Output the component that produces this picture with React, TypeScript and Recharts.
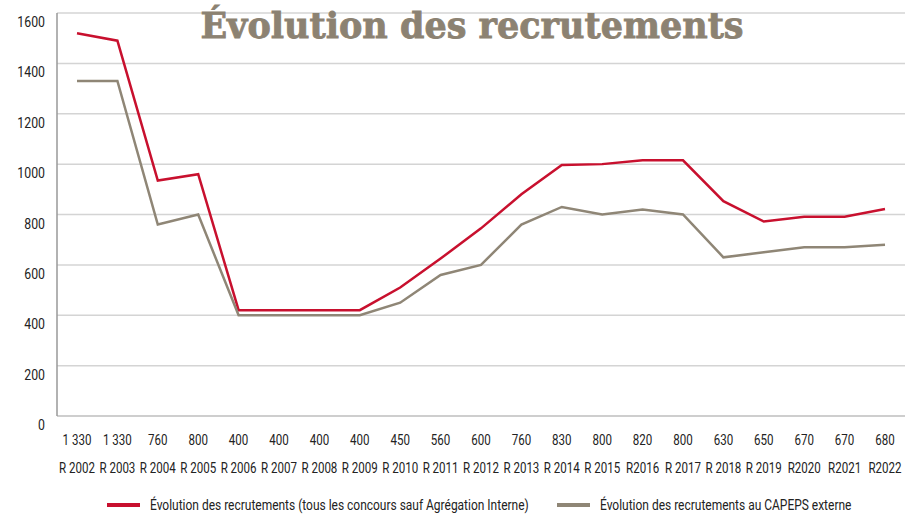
import React from "react";
import { LineChart, Line, XAxis, YAxis, CartesianGrid } from "recharts";

const years = ["R 2002","R 2003","R 2004","R 2005","R 2006","R 2007","R 2008","R 2009","R 2010","R 2011","R 2012","R 2013","R 2014","R 2015","R2016","R 2017","R 2018","R 2019","R2020","R2021","R2022"];
const totalRecruit = [1520,1490,935,960,420,420,420,420,510,625,745,880,997,1000,1015,1015,853,772,791,791,822];
const capepsRecruit = [1330,1330,760,800,400,400,400,400,450,560,600,760,830,800,820,800,630,650,670,670,680];
const capepsLabels = ["1 330","1 330","760","800","400","400","400","400","450","560","600","760","830","800","820","800","630","650","670","670","680"];
const yTicks = [0,200,400,600,800,1000,1200,1400,1600];

const RED = "#c8102e";
const GRAY = "#8f8676";
const FONT = "Roboto, 'Liberation Sans', sans-serif";

const data = years.map((y, i) => ({ year: y, label: capepsLabels[i], total: totalRecruit[i], capeps: capepsRecruit[i] }));

const XTick = (props: any) => {
  const { x, y, payload, index } = props;
  return (
    <g transform={`translate(${x},${y}) scale(0.77,1)`}>
      <text x={0} y={21} textAnchor="middle" fontSize={15} fontFamily={FONT} fill="#222">{capepsLabels[index]}</text>
      <text x={0} y={49} textAnchor="middle" fontSize={15} fontFamily={FONT} fill="#222">{payload.value}</text>
    </g>
  );
};

const YTick = (props: any) => {
  const { x, y, payload } = props;
  return (
    <g transform={`translate(${x},${y}) scale(0.82,1)`}>
      <text x={0} y={14} textAnchor="end" fontSize={15} fontFamily={FONT} fill="#222">{payload.value}</text>
    </g>
  );
};

const legendText: React.CSSProperties = { display: "inline-block", transform: "scaleX(0.855)", transformOrigin: "left center" };

export default function App() {
  return (
    <div style={{ position: "absolute", left: 0, top: 0, width: 914, height: 515, background: "#fff" }}>
      <LineChart width={914} height={515} data={data} margin={{ top: 13, right: 9, bottom: 39, left: 0 }}>
        <CartesianGrid vertical={false} stroke="#d4d4d4" strokeWidth={1.5} />
        <XAxis dataKey="year" interval={0} padding={{ left: 20, right: 20 }} tickLine={false} axisLine={{ stroke: "#c8c8c8", strokeWidth: 1.5 }} height={60} tick={<XTick />} />
        <YAxis domain={[0, 1600]} ticks={yTicks} width={57} tickLine={false} axisLine={{ stroke: "#999", strokeWidth: 1.5 }} tickMargin={6} tick={<YTick />} />
        <Line type="linear" dataKey="total" stroke={RED} strokeWidth={2.5} dot={false} isAnimationActive={false} name="Évolution des recrutements (tous les concours sauf Agrégation Interne)" />
        <Line type="linear" dataKey="capeps" stroke={GRAY} strokeWidth={2.5} dot={false} isAnimationActive={false} name="Évolution des recrutements au CAPEPS externe" />
      </LineChart>
      <div style={{ position: "absolute", left: 0, width: 914, top: 6, textAlign: "center", paddingLeft: 30, boxSizing: "border-box", fontFamily: "'DejaVu Serif', serif", fontWeight: "bold", fontSize: 35, color: "#8c8272", lineHeight: "40px", WebkitTextStroke: "0.8px #8c8272" }}>
        Évolution des recrutements
      </div>
      <div style={{ position: "absolute", left: 107, top: 497, display: "flex", alignItems: "center", fontFamily: FONT, fontSize: 14, color: "#222", whiteSpace: "nowrap" }}>
        <span style={{ display: "inline-block", width: 33, height: 4, background: RED, marginRight: 10 }} />
        <span style={legendText}>Évolution des recrutements (tous les concours sauf Agrégation Interne)</span>
      </div>
      <div style={{ position: "absolute", left: 557, top: 497, display: "flex", alignItems: "center", fontFamily: FONT, fontSize: 14, color: "#222", whiteSpace: "nowrap" }}>
        <span style={{ display: "inline-block", width: 33, height: 4, background: GRAY, marginRight: 10 }} />
        <span style={legendText}>Évolution des recrutements au CAPEPS externe</span>
      </div>
    </div>
  );
}
